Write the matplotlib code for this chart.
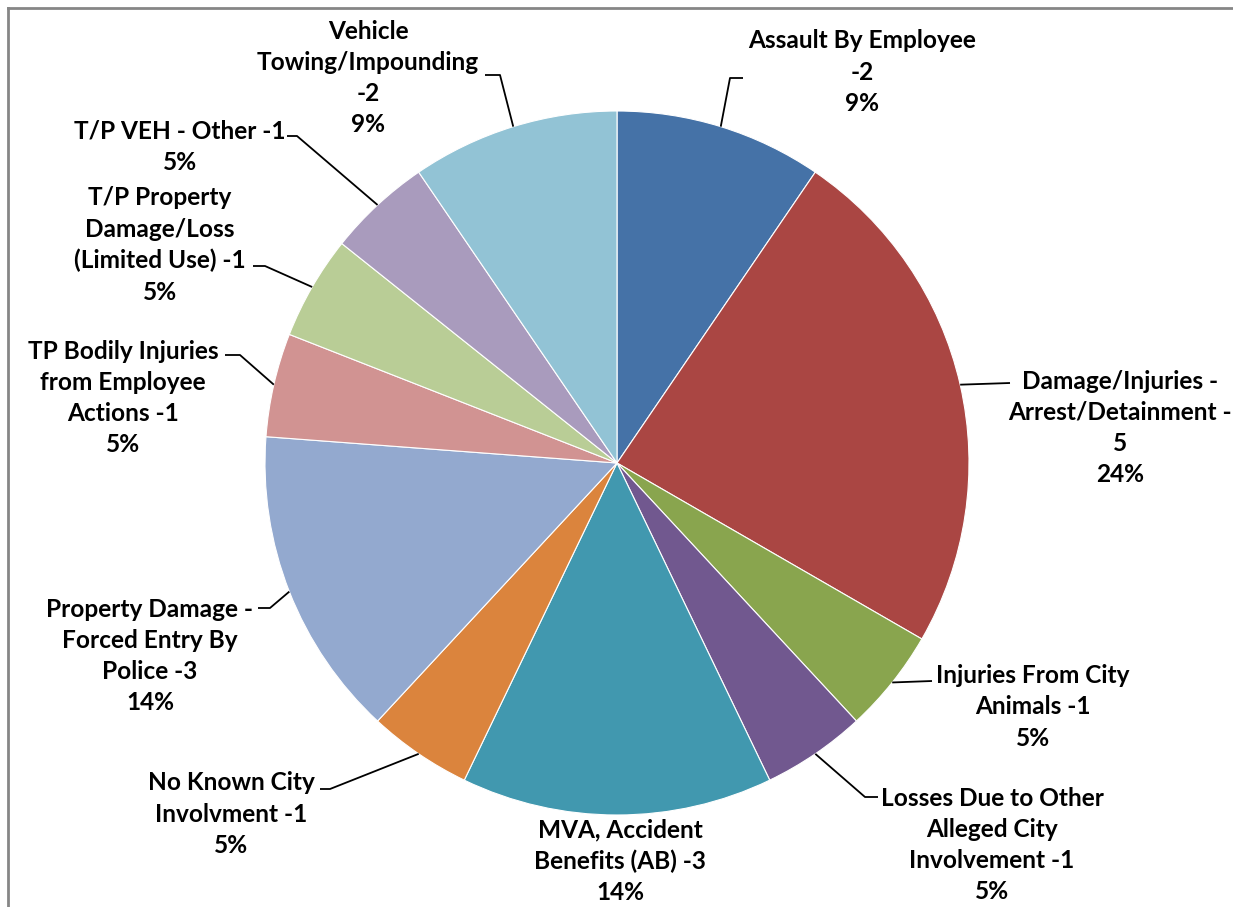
import matplotlib
matplotlib.use("Agg")
import matplotlib.pyplot as plt
import numpy as np

# ---- data ----
categories = [
    "Assault By Employee\n-2",
    "Damage/Injuries -\nArrest/Detainment -\n5",
    "Injuries From City\nAnimals -1",
    "Losses Due to Other\nAlleged City\nInvolvement -1",
    "MVA, Accident\nBenefits (AB) -3",
    "No Known City\nInvolvment -1",
    "Property Damage -\nForced Entry By\nPolice -3",
    "TP Bodily Injuries\nfrom Employee\nActions -1",
    "T/P Property\nDamage/Loss\n(Limited Use) -1",
    "T/P VEH - Other -1",
    "Vehicle\nTowing/Impounding\n-2",
]
values = [2, 5, 1, 1, 3, 1, 3, 1, 1, 1, 2]
pct_labels = ["9%", "24%", "5%", "5%", "14%", "5%", "14%", "5%", "5%", "5%", "9%"]
colors = ["#4572A7", "#AA4643", "#89A54E", "#71588F", "#4198AF", "#DB843D",
          "#93A9CF", "#D19392", "#B9CD96", "#A99BBD", "#92C3D5"]

# ---- layout (pixel coordinates, y measured from top) ----
W, H = 1233, 907
cx, cy, R = 617, 463, 352
text_pos = [(862, 72), (1120, 428), (1033, 707), (992, 845), (620, 861),
            (231, 814), (150, 656), (123, 398), (160, 245), (180, 147), (368, 78)]
# leader elbow points (None = no leader)
leaders = [
    [(730, 78), (743, 78)],
    [(1010, 383)],
    [(932, 681)],
    [(865, 797), (878, 797)],
    None,
    [(330, 789), (320, 789)],
    [(270, 608), (258, 608)],
    [(240, 355), (225, 355)],
    [(265, 266), (253, 266)],
    [(297, 136), (287, 136)],
    [(500, 75), (485, 75)],
]

fig = plt.figure(figsize=(W / 100, H / 100), dpi=100)
ax = fig.add_axes([0, 0, 1, 1])

def fy(y):
    return H - y

wedges, _ = ax.pie(values, colors=colors, startangle=90, counterclock=False,
                   center=(cx, fy(cy)), radius=R, frame=True,
                   wedgeprops=dict(edgecolor="white", linewidth=0.8))
ax.set_xlim(0, W)
ax.set_ylim(0, H)
ax.set_aspect("equal")
ax.axis("off")

font = dict(family=["Lato", "DejaVu Sans"], fontweight="bold", fontsize=17.6, color="black")
for w, cat, pct, tp, ld in zip(wedges, categories, pct_labels, text_pos, leaders):
    ax.text(tp[0], fy(tp[1]), cat + "\n" + pct, ha="center", va="center",
            multialignment="center", linespacing=1.43, **font)
    if ld is not None:
        ang = np.deg2rad((w.theta1 + w.theta2) / 2)
        x0 = cx + R * np.cos(ang)
        y0 = fy(cy) + R * np.sin(ang)
        xs = [x0] + [p[0] for p in ld]
        ys = [y0] + [fy(p[1]) for p in ld]
        ax.plot(xs, ys, color="black", lw=1.3, solid_capstyle="butt")

# chart frame (partially visible)
ax.plot([8, 8], [fy(8), -10], color="#868686", lw=2, clip_on=False)
ax.plot([8, W + 10], [fy(8), fy(8)], color="#868686", lw=2, clip_on=False)

fig.savefig("out.png", dpi=100, facecolor="white")
